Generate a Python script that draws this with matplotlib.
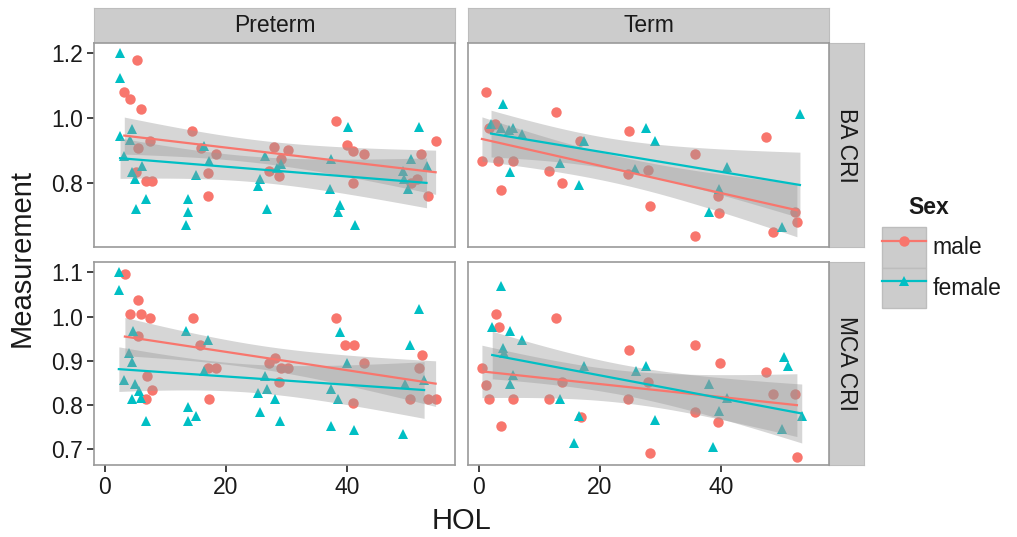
import numpy as np
import matplotlib.pyplot as plt
from matplotlib.lines import Line2D
from matplotlib.patches import Patch
from matplotlib.legend_handler import HandlerTuple

plt.rcParams['font.family'] = ['Liberation Sans', 'DejaVu Sans']

# HOL vs. measurement, per group / measure / sex
pre_ba_m_x = [5.3, 3.2, 4.2, 5.9, 7.4, 5.5, 6.8, 7.8, 5.2, 14.4, 15.9, 18.3, 17.1, 17.1,
              27.9, 30.3, 29.0, 27.1, 28.8, 38.1, 39.9, 41.0, 42.7, 40.9, 54.6, 52.2, 51.6, 50.5, 53.4]
pre_ba_m_y = [1.178, 1.08, 1.058, 1.027, 0.928, 0.908, 0.807, 0.807, 0.832, 0.961, 0.908, 0.888, 0.829, 0.76,
              0.91, 0.90, 0.873, 0.837, 0.82, 0.989, 0.918, 0.898, 0.888, 0.799, 0.93, 0.888, 0.812, 0.80, 0.76]
pre_ba_f_x = [2.5, 2.5, 2.5, 4.5, 4.1, 3.2, 4.4, 5.0, 6.2, 6.8, 5.1, 13.7, 13.8, 13.4, 15.0, 16.4, 17.2,
              25.2, 25.6, 26.5, 26.7, 28.4, 29.0, 37.2, 37.4, 40.2, 38.8, 38.5, 41.3, 51.9, 50.5, 49.2, 49.4, 50.0, 53.1]
pre_ba_f_y = [1.2, 1.123, 0.943, 0.966, 0.933, 0.883, 0.832, 0.812, 0.852, 0.752, 0.721, 0.752, 0.711, 0.671, 0.824, 0.913, 0.868,
              0.792, 0.812, 0.883, 0.721, 0.847, 0.857, 0.782, 0.873, 0.972, 0.731, 0.711, 0.671, 0.972, 0.873, 0.837, 0.812, 0.782, 0.852]

term_ba_m_x = [1.1, 0.5, 1.6, 2.7, 3.2, 5.7, 3.7, 12.7, 16.7, 11.6, 13.7, 24.7, 24.6, 27.9, 28.3,
               35.6, 35.6, 39.5, 39.7, 47.4, 48.5, 52.2, 52.5]
term_ba_m_y = [1.08, 0.868, 0.969, 0.98, 0.868, 0.868, 0.779, 1.019, 0.93, 0.837, 0.80, 0.958, 0.827, 0.84, 0.728,
               0.888, 0.638, 0.76, 0.709, 0.94, 0.648, 0.71, 0.679]
term_ba_f_x = [4.0, 2.0, 3.6, 5.7, 4.9, 7.1, 5.2, 13.4, 17.3, 16.6, 27.6, 29.1, 25.8, 41.0, 39.6, 38.0, 50.0, 53.0]
term_ba_f_y = [1.042, 0.98, 0.97, 0.97, 0.964, 0.95, 0.833, 0.861, 0.93, 0.794, 0.97, 0.93, 0.842, 0.85, 0.78, 0.71, 0.663, 1.012]

pre_mca_m_x = [3.3, 5.4, 4.1, 5.9, 7.4, 5.5, 6.9, 7.8, 6.8, 14.5, 15.7, 17.1, 18.4, 17.2,
               27.1, 28.0, 29.0, 30.3, 28.8, 38.1, 39.6, 41.1, 42.7, 40.9, 52.4, 51.8, 50.4, 53.4, 54.6]
pre_mca_m_y = [1.096, 1.037, 1.006, 1.006, 0.996, 0.955, 0.866, 0.834, 0.813, 0.996, 0.935, 0.884, 0.884, 0.813,
               0.895, 0.906, 0.884, 0.884, 0.853, 0.996, 0.935, 0.935, 0.895, 0.805, 0.914, 0.884, 0.813, 0.813, 0.813]
pre_mca_f_x = [2.3, 2.4, 4.7, 4.0, 4.5, 3.2, 4.9, 5.7, 4.4, 6.0, 6.8, 13.4, 17.1, 16.4, 13.8, 13.7, 15.1,
               26.5, 26.7, 25.2, 28.1, 25.6, 28.9, 38.8, 40.0, 37.4, 38.5, 37.3, 41.1, 51.9, 50.4, 52.7, 49.5, 49.2]
pre_mca_f_y = [1.1, 1.059, 0.968, 0.918, 0.897, 0.857, 0.847, 0.832, 0.815, 0.817, 0.765, 0.968, 0.948, 0.877, 0.795, 0.765, 0.776,
               0.866, 0.836, 0.827, 0.815, 0.785, 0.765, 0.966, 0.895, 0.836, 0.815, 0.754, 0.745, 1.018, 0.936, 0.857, 0.847, 0.734]

term_mca_m_x = [2.9, 3.3, 0.5, 1.2, 1.7, 5.7, 3.7, 12.7, 13.7, 11.6, 16.8, 24.7, 24.6, 27.9, 28.3,
                35.6, 35.6, 39.8, 39.5, 47.4, 48.5, 52.2, 52.5]
term_mca_m_y = [1.006, 0.977, 0.884, 0.845, 0.813, 0.813, 0.752, 0.996, 0.853, 0.813, 0.773, 0.924, 0.813, 0.853, 0.692,
                0.935, 0.784, 0.895, 0.763, 0.875, 0.825, 0.825, 0.683]
term_mca_f_x = [3.7, 2.2, 5.2, 7.1, 4.0, 4.1, 5.6, 5.2, 17.4, 13.4, 16.6, 15.7, 25.9, 27.6, 29.1,
                38.0, 41.0, 39.6, 38.7, 50.3, 51.0, 50.1, 53.3]
term_mca_f_y = [1.068, 0.977, 0.968, 0.948, 0.929, 0.918, 0.869, 0.847, 0.889, 0.815, 0.775, 0.715, 0.877, 0.888, 0.767,
                0.847, 0.817, 0.787, 0.706, 0.908, 0.888, 0.747, 0.776]

groups = ['Preterm', 'Term']
measures = ['BA CRI', 'MCA CRI']
panels = {
    ('BA CRI', 'Preterm'): ((pre_ba_m_x, pre_ba_m_y), (pre_ba_f_x, pre_ba_f_y)),
    ('BA CRI', 'Term'): ((term_ba_m_x, term_ba_m_y), (term_ba_f_x, term_ba_f_y)),
    ('MCA CRI', 'Preterm'): ((pre_mca_m_x, pre_mca_m_y), (pre_mca_f_x, pre_mca_f_y)),
    ('MCA CRI', 'Term'): ((term_mca_m_x, term_mca_m_y), (term_mca_f_x, term_mca_f_y)),
}
sexes = ['male', 'female']
colors = {'male': '#F8766D', 'female': '#00BFC4'}
markers = {'male': 'o', 'female': '^'}
ylims = {'BA CRI': (0.603, 1.23), 'MCA CRI': (0.665, 1.123)}
yticks = {'BA CRI': [0.8, 1.0, 1.2], 'MCA CRI': [0.7, 0.8, 0.9, 1.0, 1.1]}


def lm_band(x, y, n=80):
    # linear fit with 95% confidence band, like geom_smooth(method="lm")
    x = np.asarray(x, float)
    y = np.asarray(y, float)
    b, a = np.polyfit(x, y, 1)
    xs = np.linspace(x.min(), x.max(), n)
    fit = a + b * xs
    df = len(x) - 2
    resid = y - (a + b * x)
    s = np.sqrt(np.sum(resid ** 2) / df)
    se = s * np.sqrt(1 / len(x) + (xs - x.mean()) ** 2 / np.sum((x - x.mean()) ** 2))
    t = 1.96 + 2.4 / df
    return xs, fit, fit - t * se, fit + t * se


fig = plt.figure(figsize=(10.17, 5.37), dpi=100)
W, H = 1017, 537
col_left = [94, 468]
col_w = 361
row_top = [43, 262]
row_h = [204, 203]
strip_col = '#CCCCCC'
border_col = '#9A9A9A'
txt_col = '#1A1A1A'

for ci, g in enumerate(groups):
    # column strip
    sax = fig.add_axes([col_left[ci] / W, 1 - row_top[0] / H, col_w / W, 35 / H])
    sax.set_facecolor(strip_col)
    sax.set_xticks([]); sax.set_yticks([])
    for sp in sax.spines.values():
        sp.set_color('#BDBDBD')
    sax.text(0.5, 0.5, g, ha='center', va='center', fontsize=16.5, color=txt_col, transform=sax.transAxes)

for ri, m in enumerate(measures):
    # row strip
    rax = fig.add_axes([(col_left[1] + col_w) / W, 1 - (row_top[ri] + row_h[ri]) / H, 35 / W, row_h[ri] / H])
    rax.set_facecolor(strip_col)
    rax.set_xticks([]); rax.set_yticks([])
    for sp in rax.spines.values():
        sp.set_color('#BDBDBD')
    rax.text(0.5, 0.5, m, ha='center', va='center', rotation=-90, fontsize=16.5, color=txt_col,
             transform=rax.transAxes)

    for ci, g in enumerate(groups):
        ax = fig.add_axes([col_left[ci] / W, 1 - (row_top[ri] + row_h[ri]) / H, col_w / W, row_h[ri] / H])
        for sex, (x, y) in zip(sexes, panels[(m, g)]):
            ax.plot(x, y, linestyle='none', marker=markers[sex], markersize=7.5,
                    color=colors[sex], markeredgewidth=0, zorder=2)
        for sex, (x, y) in zip(sexes, panels[(m, g)]):
            xs, fit, lo, hi = lm_band(x, y)
            ax.fill_between(xs, lo, hi, color='#999999', alpha=0.4, linewidth=0, zorder=3)
            ax.plot(xs, fit, color=colors[sex], linewidth=1.6, zorder=4)
        ax.set_xlim(-1.8, 57.8)
        ax.set_ylim(*ylims[m])
        ax.set_xticks([0, 20, 40])
        ax.set_yticks(yticks[m])
        ax.tick_params(length=5, width=1.3, color='#333333', labelsize=16.5, labelcolor=txt_col, pad=3)
        if ci == 1:
            ax.tick_params(axis='y', left=False, labelleft=False)
        else:
            ax.set_yticklabels(['%.1f' % v for v in yticks[m]])
        if ri == 0:
            ax.tick_params(axis='x', bottom=False, labelbottom=False)
        for sp in ax.spines.values():
            sp.set_color(border_col)
            sp.set_linewidth(1.2)

fig.text(0.5 * (col_left[0] + col_left[1] + col_w) / W, 1 - 521 / H, 'HOL', ha='center', va='center',
         fontsize=21, color=txt_col)
fig.text(22 / W, 1 - 258 / H, 'Measurement', ha='center', va='center', rotation=90,
         fontsize=21, color=txt_col)

# legend: grey key boxes (the se ribbon) with line + marker
fig.text(908 / W, 1 - 208 / H, 'Sex', ha='left', va='center', fontsize=16.5, fontweight='bold', color=txt_col)
key_bg = Patch(facecolor='#CCCCCC', edgecolor='#BDBDBD', linewidth=1)
handles = [(key_bg, Line2D([], [], color=colors[s], marker=markers[s], markersize=7.5,
                           markeredgewidth=0, linewidth=1.6)) for s in sexes]
leg = fig.legend(handles, sexes, handler_map={tuple: HandlerTuple(ndivide=1, pad=0)},
                 loc='upper left', bbox_to_anchor=(882 / W, 1 - 227 / H), frameon=False,
                 fontsize=16.5, handlelength=1.9, handleheight=2.35, labelspacing=0,
                 handletextpad=0.3, borderpad=0, borderaxespad=0)
for t in leg.get_texts():
    t.set_color(txt_col)

fig.savefig('out.png', dpi=100)
